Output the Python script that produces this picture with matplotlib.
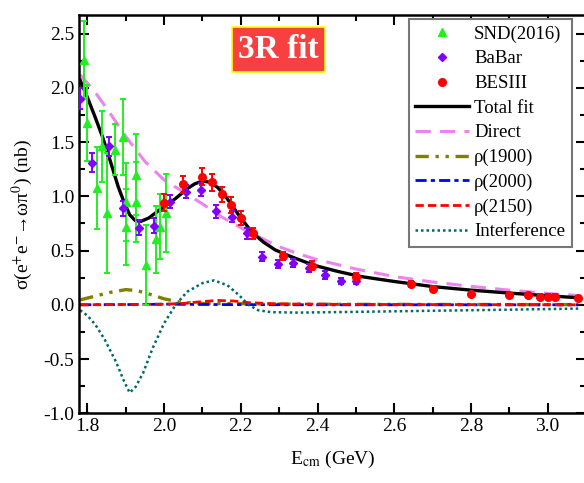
import matplotlib
matplotlib.use('Agg')
import matplotlib.pyplot as plt
from matplotlib.ticker import MultipleLocator, FormatStrFormatter

plt.rcParams['font.family'] = ['Liberation Serif', 'DejaVu Serif']
plt.rcParams['mathtext.fontset'] = 'stix'
plt.rcParams['axes.unicode_minus'] = False

# SND(2016): energy, cross section, error
snd_E = [1.791, 1.798, 1.824, 1.839, 1.850, 1.872, 1.892, 1.901, 1.901, 1.927,
         1.927, 1.953, 1.979, 1.989, 2.005]
snd_sig = [2.26, 1.675, 1.075, 1.46, 0.845, 1.43, 1.55, 0.95, 0.72, 1.20,
           0.95, 0.37, 0.605, 0.72, 0.845]
snd_err = [0.36, 0.35, 0.38, 0.33, 0.55, 0.235, 0.35, 0.36, 0.35, 0.37,
           0.37, 0.37, 0.31, 0.30, 0.36]

# BaBar
bab_E = [1.781, 1.813, 1.855, 1.892, 1.935, 1.974, 2.016, 2.057, 2.096, 2.135,
         2.176, 2.215, 2.256, 2.298, 2.337, 2.379, 2.420, 2.460, 2.500]
bab_sig = [1.90, 1.31, 1.46, 0.89, 0.71, 0.73, 0.95, 1.04, 1.06, 0.86,
           0.81, 0.66, 0.445, 0.375, 0.385, 0.34, 0.275, 0.22, 0.22]
bab_err = [0.10, 0.09, 0.09, 0.07, 0.07, 0.07, 0.06, 0.06, 0.06, 0.06,
           0.05, 0.05, 0.04, 0.04, 0.04, 0.035, 0.035, 0.03, 0.03]

# BESIII
bes_E = [2.000, 2.050, 2.100, 2.125, 2.150, 2.175, 2.200, 2.232, 2.309, 2.386,
         2.500, 2.645, 2.700, 2.800, 2.900, 2.950, 2.981, 3.000, 3.020, 3.080]
bes_sig = [0.94, 1.11, 1.18, 1.13, 1.02, 0.92, 0.80, 0.66, 0.45, 0.36,
           0.26, 0.19, 0.15, 0.10, 0.09, 0.09, 0.076, 0.076, 0.076, 0.065]
bes_err = [0.08, 0.08, 0.08, 0.08, 0.07, 0.07, 0.06, 0.05, 0.04, 0.04,
           0.03, 0.025, 0.025, 0.02, 0.02, 0.02, 0.02, 0.02, 0.02, 0.02]

# fit curves
tot_E = [1.781, 1.80, 1.82, 1.84, 1.86, 1.88, 1.895, 1.91, 1.925, 1.94, 1.96,
         1.99, 2.03, 2.06, 2.08, 2.10, 2.12, 2.14, 2.16, 2.18, 2.20, 2.22,
         2.24, 2.26, 2.29, 2.33, 2.39, 2.45, 2.51, 2.60, 2.70, 2.80, 2.90,
         3.00, 3.08]
tot_sig = [2.07, 1.91, 1.73, 1.54, 1.32, 1.09, 0.95, 0.83, 0.775, 0.77, 0.80,
           0.88, 0.98, 1.07, 1.115, 1.14, 1.13, 1.08, 1.00, 0.90, 0.80, 0.71,
           0.635, 0.575, 0.505, 0.445, 0.365, 0.31, 0.262, 0.215, 0.168, 0.135,
           0.108, 0.083, 0.065]

dir_E = [1.781, 1.82, 1.86, 1.90, 1.95, 2.00, 2.05, 2.10, 2.15, 2.20, 2.25,
         2.30, 2.35, 2.40, 2.50, 2.60, 2.70, 2.80, 2.90, 3.00, 3.08]
dir_sig = [2.12, 1.96, 1.76, 1.55, 1.32, 1.15, 1.04, 0.93, 0.81, 0.71, 0.62,
           0.535, 0.47, 0.415, 0.33, 0.26, 0.21, 0.17, 0.135, 0.105, 0.085]

r1900_E = [1.781, 1.82, 1.86, 1.90, 1.93, 1.96, 2.00, 2.04, 2.10, 2.20, 2.30,
           2.50, 2.70, 2.90, 3.08]
r1900_sig = [0.045, 0.08, 0.115, 0.14, 0.13, 0.10, 0.055, 0.025, 0.012, 0.01,
             0.006, 0.004, 0.003, 0.002, 0.002]

r2000_E = [1.781, 1.95, 2.00, 2.05, 2.15, 2.40, 3.08]
r2000_sig = [0.0, 0.003, 0.006, 0.004, 0.002, 0.0, 0.0]

r2150_E = [1.781, 2.00, 2.06, 2.10, 2.14, 2.18, 2.22, 2.30, 2.50, 3.08]
r2150_sig = [0.0, 0.005, 0.015, 0.03, 0.04, 0.035, 0.02, 0.008, 0.003, 0.0]

int_E = [1.781, 1.80, 1.82, 1.845, 1.875, 1.895, 1.91, 1.925, 1.945, 1.97,
         2.00, 2.03, 2.06, 2.10, 2.13, 2.165, 2.195, 2.22, 2.245, 2.28, 2.35,
         2.50, 2.70, 2.90, 3.08]
int_sig = [-0.05, -0.10, -0.18, -0.32, -0.53, -0.70, -0.81, -0.76, -0.63,
           -0.40, -0.17, 0.0, 0.12, 0.20, 0.225, 0.18, 0.09, 0.0, -0.05,
           -0.068, -0.072, -0.065, -0.055, -0.045, -0.035]

fig = plt.figure(figsize=(5.84, 4.83), dpi=100)
ax = fig.add_axes([0.1353, 0.1443, 0.868, 0.8247])

l_tot, = ax.plot(tot_E, tot_sig, color='black', lw=2.4, label='Total fit', zorder=3)
l_dir, = ax.plot(dir_E, dir_sig, color='violet', lw=2.2, ls=(0, (5, 3)), label='Direct', zorder=2)
l_19, = ax.plot(r1900_E, r1900_sig, color='#808000', lw=2.4, ls=(0, (4, 2, 1, 2, 1, 2)), label='ρ(1900)', zorder=2)
l_20, = ax.plot(r2000_E, r2000_sig, color='blue', lw=2.0, ls=(0, (4, 1.5, 1.5, 1.5)), label='ρ(2000)', zorder=2)
l_21, = ax.plot(r2150_E, r2150_sig, color='red', lw=2.0, ls=(0, (3, 1.5)), label='ρ(2150)', zorder=2)
l_int, = ax.plot(int_E, int_sig, color='#006868', lw=1.8, ls=(0, (1, 1.2)), label='Interference', zorder=2)

e1 = ax.errorbar(snd_E, snd_sig, yerr=snd_err, fmt='^', color='#22ee22', ms=6,
                 elinewidth=1.4, capsize=2.5, capthick=1.4, label='SND(2016)', zorder=4)
e2 = ax.errorbar(bab_E, bab_sig, yerr=bab_err, fmt='D', color='#8000ff', ms=4.5,
                 elinewidth=1.4, capsize=2.5, capthick=1.4, label='BaBar', zorder=4)
e3 = ax.errorbar(bes_E, bes_sig, yerr=bes_err, fmt='o', color='red', ms=5.5,
                 elinewidth=1.4, capsize=2.5, capthick=1.4, label='BESIII', zorder=5)

ax.set_xlim(1.778, 3.10)
ax.set_ylim(-1.0, 2.671)
ax.xaxis.set_major_locator(MultipleLocator(0.2))
ax.xaxis.set_minor_locator(MultipleLocator(0.1))
ax.yaxis.set_major_locator(MultipleLocator(0.5))
ax.yaxis.set_minor_locator(MultipleLocator(0.25))
ax.xaxis.set_major_formatter(FormatStrFormatter('%.1f'))
ax.yaxis.set_major_formatter(FormatStrFormatter('%.1f'))
ax.tick_params(which='both', direction='in', top=True, right=True, labelsize=14, width=1.5)
ax.tick_params(which='major', length=7)
ax.tick_params(which='minor', length=4)
for s in ax.spines.values():
    s.set_linewidth(1.8)

ax.set_xlabel(r'E$_{\mathrm{cm}}$ (GeV)', fontsize=14, labelpad=10)
ax.set_ylabel(r'σ(e$^{+}$e$^{-}$→ωπ$^{0}$) (nb)', fontsize=14, labelpad=6)

ax.text(0.3935, 0.913, '3R fit', transform=ax.transAxes, ha='center', va='center',
        fontsize=24, fontweight='bold', color='white',
        bbox=dict(boxstyle='square,pad=0.2', fc='#f94040', ec='yellow', lw=1.2))

leg = ax.legend([e1[0], e2[0], e3[0], l_tot, l_dir, l_19, l_20, l_21, l_int],
                ['SND(2016)', 'BaBar', 'BESIII', 'Total fit', 'Direct', 'ρ(1900)',
                 'ρ(2000)', 'ρ(2150)', 'Interference'],
                loc='upper right', bbox_to_anchor=(0.972, 0.99), borderaxespad=0,
                fontsize=13.5, handlelength=2.9, handletextpad=0.25, labelspacing=0.40,
                borderpad=0.35, fancybox=False, framealpha=1, edgecolor='#777777')
leg.get_frame().set_linewidth(1.5)

fig.savefig('out.png', dpi=100)
